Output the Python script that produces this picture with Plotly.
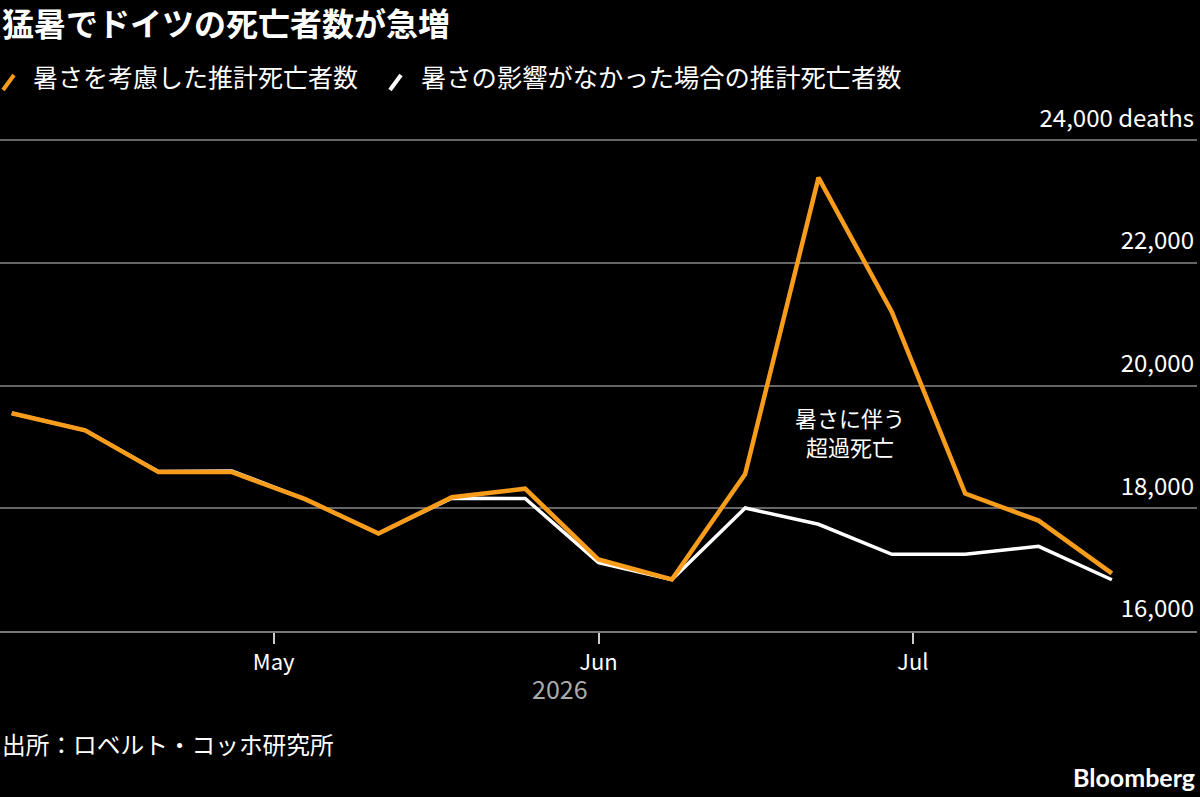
import plotly.graph_objects as go

weeks = ['2026-04-06', '2026-04-13', '2026-04-20', '2026-04-27', '2026-05-04', '2026-05-11',
         '2026-05-18', '2026-05-25', '2026-06-01', '2026-06-08', '2026-06-15', '2026-06-22',
         '2026-06-29', '2026-07-06', '2026-07-13', '2026-07-20']
with_heat = [19550, 19270, 18590, 18590, 18150, 17590, 18180, 18320,
             17165, 16840, 18560, 23390, 21200, 18240, 17800, 16940]
without_heat = [19550, 19270, 18600, 18610, 18150, 17590, 18165, 18160,
                17115, 16840, 18005, 17740, 17250, 17250, 17380, 16835]

y_ticks = [16000, 18000, 20000, 22000, 24000]
y_labels = ['16,000', '18,000', '20,000', '22,000', '24,000 deaths']
month_ticks = ['2026-05-01', '2026-06-01', '2026-07-01']
month_labels = ['May', 'Jun', 'Jul']

orange = '#f89c1c'
jp = 'Noto Sans CJK JP'

fig = go.Figure()
fig.add_trace(go.Scatter(x=weeks, y=without_heat, mode='lines', name='暑さの影響がなかった場合の推計死亡者数',
                         line=dict(color='white', width=3.5)))
fig.add_trace(go.Scatter(x=weeks, y=with_heat, mode='lines', name='暑さを考慮した推計死亡者数',
                         line=dict(color=orange, width=4.5)))

fig.update_layout(
    width=1200, height=797,
    paper_bgcolor='black', plot_bgcolor='black',
    margin=dict(l=0, r=3, t=139, b=166),
    showlegend=False,
    font=dict(family=jp, color='white', size=20),
)
fig.update_xaxes(
    range=['2026-04-04 21:00', '2026-07-28 03:00'],
    tickvals=month_ticks, ticktext=month_labels,
    showgrid=False, zeroline=False,
    showline=True, linecolor='#777', linewidth=1.5,
    ticks='outside', ticklen=11, tickcolor='#ccc', tickwidth=1.5,
    tickfont=dict(family=jp, size=22, color='white'),
)
fig.update_yaxes(
    range=[16000, 24020], side='right',
    tickvals=y_ticks, ticktext=y_labels,
    ticklabelposition='inside', ticklabeloverflow='allow',
    ticklabelshift=-22,
    showgrid=True, gridcolor='#666', gridwidth=1.5, zeroline=False,
    tickfont=dict(family=jp, size=24, color='white'),
)

# title, legend, notes
fig.add_annotation(text='<b>猛暑でドイツの死亡者数が急増</b>', xref='paper', yref='paper', x=0, y=1,
                   xanchor='left', yanchor='middle', yshift=117, showarrow=False,
                   font=dict(family=jp, size=32, color='white'))
fig.add_annotation(text='暑さを考慮した推計死亡者数', xref='paper', yref='paper', x=0, y=1,
                   xanchor='left', yanchor='middle', xshift=31, yshift=63, showarrow=False,
                   font=dict(family=jp, size=25, color='white'))
fig.add_annotation(text='暑さの影響がなかった場合の推計死亡者数', xref='paper', yref='paper', x=0, y=1,
                   xanchor='left', yanchor='middle', xshift=419, yshift=63, showarrow=False,
                   font=dict(family=jp, size=25.3, color='white'))
fig.add_annotation(text='暑さに伴う<br>超過死亡', x='2026-06-25', y=19250, showarrow=False,
                   font=dict(family=jp, size=22, color='white'))
fig.add_annotation(text='2026', xref='paper', yref='paper', x=0.468, y=0, yanchor='middle',
                   yshift=-57, showarrow=False, font=dict(family=jp, size=25, color='#aaa'))
fig.add_annotation(text='出所：ロベルト・コッホ研究所', xref='paper', yref='paper', x=0, y=0,
                   xanchor='left', yanchor='middle', yshift=-113, showarrow=False,
                   font=dict(family=jp, size=23.7, color='white'))
fig.add_annotation(text='<b>Bloomberg</b>', xref='paper', yref='paper', x=1, y=0,
                   xanchor='right', yanchor='middle', xshift=0, yshift=-146, showarrow=False,
                   font=dict(family='Lato', size=25, color='white'))

# slash legend swatches drawn in pixel space
for x0, col in [(3, orange), (390, 'white')]:
    fig.add_shape(type='line', xref='paper', yref='paper',
                  x0=x0 / 1197, x1=(x0 + 11) / 1197,
                  y0=1 + 49 / 492, y1=1 + 64 / 492,
                  line=dict(color=col, width=4))

fig.write_html('out.html', config={'displayModeBar': False},
               post_script="document.body.style.margin='0';document.body.style.background='black';")
